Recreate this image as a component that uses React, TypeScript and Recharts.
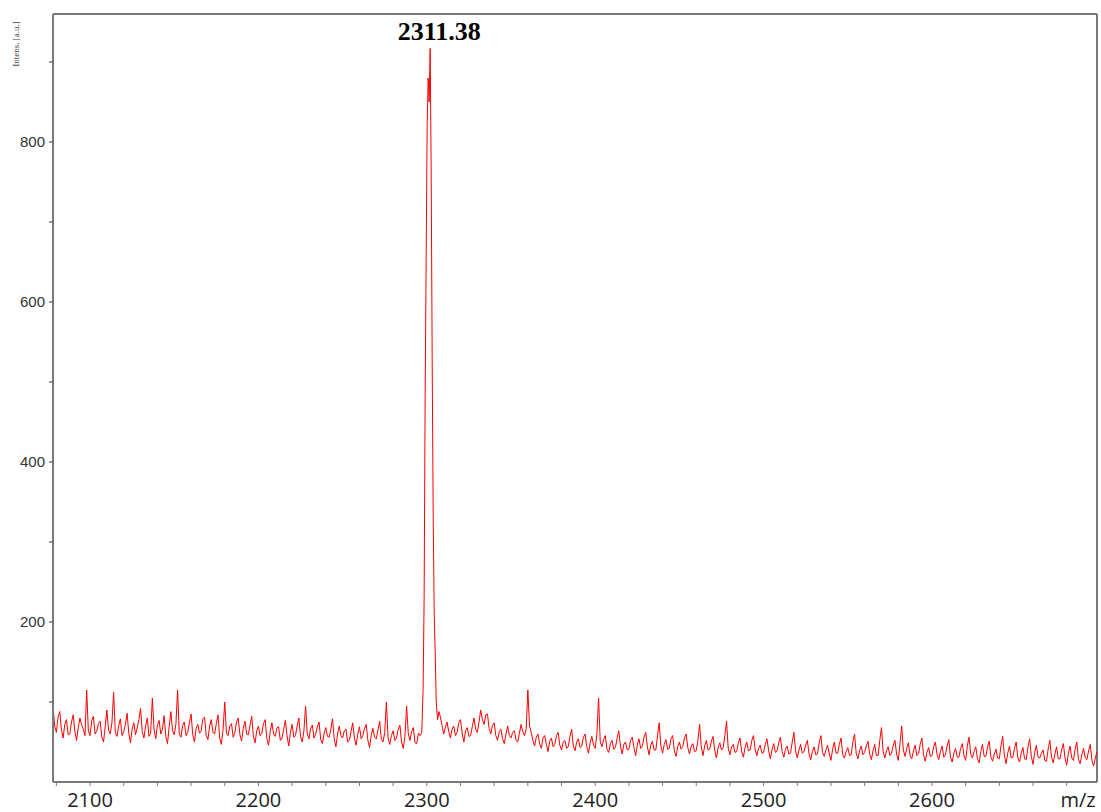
import { LineChart, Line, XAxis, YAxis, ReferenceLine, ReferenceDot } from "recharts"

// baseline noise before the peak, one value per m/z unit starting at 2078
const LEFT_START = 2078
const RIGHT_START = 2308
const STEP = 1

const leftNoise = [
  95, 70, 62, 81, 88, 66, 55, 72, 78, 59, 60, 75, 84, 63, 52, 68, 80, 71, 66, 58,
  115, 64, 58, 77, 82, 60, 64, 73, 76, 56, 50, 69, 90, 65, 60, 74, 112, 62, 57, 70,
  79, 58, 63, 72, 86, 61, 49, 66, 74, 59, 68, 78, 92, 63, 55, 70, 80, 57, 61, 105,
  66, 54, 71, 77, 60, 66, 83, 57, 48, 69, 88, 64, 59, 73, 115, 60, 56, 71, 75, 58,
  62, 74, 85, 59, 50, 67, 72, 61, 64, 79, 81, 58, 53, 70, 78, 62, 60, 73, 84, 55,
  47, 66, 100, 61, 58, 70, 73, 56, 62, 75, 80, 59, 51, 67, 76, 60, 59, 71, 82, 57,
  49, 64, 70, 58, 61, 73, 78, 54, 46, 63, 74, 60, 57, 68, 69, 52, 55, 66, 77, 58,
  45, 62, 72, 56, 58, 70, 80, 57, 50, 64, 95, 60, 54, 67, 71, 55, 60, 69, 75, 53,
  48, 61, 68, 57, 56, 66, 79, 54, 44, 60, 70, 58, 55, 64, 66, 50, 52, 63, 74, 55,
  46, 60, 69, 54, 58, 67, 72, 52, 43, 59, 67, 56, 54, 65, 76, 53, 50, 62, 100, 55,
  47, 58, 64, 52, 55, 66, 71, 50, 42, 57, 95, 60, 52, 63, 68, 49, 48, 61, 58, 62,
]

// the main peak, finer sampling
const peakMz = [2297.8, 2298.4, 2299, 2299.6, 2300.2, 2300.8, 2301.4, 2302, 2302.6, 2303.2, 2303.8, 2304.4, 2305, 2305.6, 2306.4, 2307.2]
const peakInt = [117, 230, 480, 650, 820, 880, 850, 917, 760, 520, 330, 210, 160, 100, 78, 88]

// noise after the peak, one value per m/z unit from 2308
const rightNoise = [
  82, 71, 60, 68, 75, 63, 55, 66, 70, 58, 62, 74, 78, 61, 50, 64, 68, 57, 58, 69,
  80, 66, 62, 75, 90, 78, 72, 84, 85, 67, 60, 71, 74, 58, 52, 63, 66, 54, 48, 60,
  70, 58, 55, 62, 64, 52, 50, 61, 72, 63, 58, 66, 115, 70, 62, 52, 45, 56, 60, 48,
  42, 55, 58, 47, 38, 51, 55, 44, 47, 58, 62, 46, 40, 50, 52, 42, 44, 57, 66, 45,
  39, 50, 54, 43, 45, 56, 60, 44, 36, 49, 57, 46, 42, 60, 105, 50, 44, 53, 58, 41,
  37, 48, 52, 41, 43, 55, 64, 45, 35, 47, 50, 40, 41, 52, 56, 43, 33, 46, 54, 42,
  45, 56, 62, 44, 34, 46, 51, 40, 40, 58, 74, 45, 36, 47, 53, 41, 42, 54, 58, 39,
  32, 44, 50, 41, 44, 55, 60, 43, 35, 45, 48, 38, 39, 52, 72, 44, 33, 45, 52, 40,
  41, 51, 57, 39, 30, 43, 49, 40, 43, 58, 76, 42, 34, 44, 47, 37, 38, 49, 55, 38,
  31, 43, 50, 39, 40, 52, 58, 40, 33, 42, 46, 36, 37, 47, 54, 39, 29, 40, 48, 37,
  39, 49, 56, 38, 31, 41, 45, 35, 36, 50, 62, 39, 30, 40, 47, 36, 38, 46, 52, 35,
  28, 38, 44, 34, 35, 49, 58, 37, 32, 40, 46, 35, 27, 41, 50, 36, 36, 47, 55, 34,
  30, 38, 43, 33, 34, 50, 60, 36, 29, 39, 45, 34, 37, 45, 51, 35, 28, 39, 47, 33,
  33, 52, 68, 38, 30, 39, 44, 33, 36, 46, 52, 35, 27, 48, 70, 40, 32, 42, 49, 33,
  29, 39, 46, 33, 35, 47, 55, 34, 26, 37, 43, 32, 33, 44, 50, 34, 28, 38, 45, 31,
  34, 45, 53, 31, 25, 36, 42, 31, 31, 42, 48, 33, 27, 45, 56, 35, 30, 38, 44, 29,
  24, 38, 47, 32, 32, 44, 51, 31, 26, 35, 41, 30, 29, 46, 57, 33, 23, 36, 45, 30,
  31, 42, 50, 30, 25, 36, 43, 29, 28, 44, 54, 32, 22, 37, 46, 31, 30, 36, 40, 27,
  26, 41, 52, 31, 24, 35, 44, 29, 29, 40, 48, 30, 21, 36, 45, 30, 27, 41, 50, 28,
  23, 34, 42, 30, 28, 39, 47, 27, 20, 30, 38,
]

const xTicks = [
  2080, 2100, 2120, 2140, 2160, 2180, 2200, 2220, 2240, 2260, 2280, 2300, 2320, 2340, 2360, 2380,
  2400, 2420, 2440, 2460, 2480, 2500, 2520, 2540, 2560, 2580, 2600, 2620, 2640, 2660, 2680,
]
const xLabels = [2100, 2200, 2300, 2400, 2500, 2600]
const yTicks = [100, 200, 300, 400, 500, 600, 700, 800, 900]
const yLabels = [200, 400, 600, 800]

const peakLabel = "2311.38"
const peakAt = { mz: 2302, intens: 917 }

const X_MIN = 2078
const X_MAX = 2698
const Y_MAX = 960

const data = [
  ...leftNoise.map((v, i) => ({ mz: LEFT_START + i * STEP, intens: v })),
  ...peakMz.map((m, i) => ({ mz: m, intens: peakInt[i] })),
  ...rightNoise.map((v, i) => ({ mz: RIGHT_START + i * STEP, intens: v })),
]

const axisColor = "#7a7a7a"

export default function App() {
  return (
    <div style={{ position: "absolute", left: 0, top: 0, background: "#fff" }}>
      <LineChart width={1101} height={812} data={data} margin={{ top: 14, right: 4, bottom: 0, left: 0 }}>
        <XAxis
          type="number"
          dataKey="mz"
          domain={[X_MIN, X_MAX]}
          allowDataOverflow
          ticks={xTicks}
          tickFormatter={(v: number) => (xLabels.includes(v) ? String(v) : "")}
          height={30}
          tickSize={4}
          tickMargin={7}
          stroke={axisColor}
          axisLine={{ stroke: axisColor, strokeWidth: 2 }}
          tick={{ fill: "#222", fontSize: 20, fontFamily: "'Open Sans', 'Noto Sans', sans-serif" }}
          label={(props: any) => {
            const vb = props.viewBox || {}
            return (
              <text
                x={vb.x + vb.width - 19}
                y={vb.y + 25}
                textAnchor="middle"
                fill="#222"
                fontSize={20}
                fontFamily="'Open Sans', 'Noto Sans', sans-serif"
              >
                m/z
              </text>
            )
          }}
        />
        <YAxis
          type="number"
          domain={[0, Y_MAX]}
          allowDataOverflow
          ticks={yTicks}
          tickFormatter={(v: number) => (yLabels.includes(v) ? String(v) : "")}
          width={53}
          tickSize={4}
          tickMargin={4}
          stroke={axisColor}
          axisLine={{ stroke: axisColor, strokeWidth: 2 }}
          tickLine={{ stroke: "#333" }}
          tick={{ fill: "#333", fontSize: 15, fontFamily: "'Liberation Sans Narrow', 'Liberation Sans', sans-serif" }}
          label={() => (
            <text
              x={19}
              y={44}
              transform="rotate(-90 19 44)"
              textAnchor="middle"
              fill="#444"
              fontSize={9}
              fontFamily="'Liberation Serif', serif"
            >
              Intens. [a.u.]
            </text>
          )}
        />
        <ReferenceLine y={Y_MAX} stroke={axisColor} strokeWidth={2} />
        <ReferenceLine x={X_MAX} stroke={axisColor} strokeWidth={2} />
        <Line
          type="linear"
          dataKey="intens"
          stroke="#ff0000"
          strokeWidth={1}
          dot={false}
          isAnimationActive={false}
        />
        <ReferenceDot
          x={peakAt.mz}
          y={peakAt.intens}
          r={1}
          fill="none"
          stroke="none"
          label={(props: any) => {
            const vb = props.viewBox || {}
            return (
              <text
                x={vb.x + 10}
                y={vb.y - 7}
                textAnchor="middle"
                fill="#000"
                fontSize={26}
                fontWeight="bold"
                fontFamily="'Liberation Serif', 'DejaVu Serif', serif"
              >
                {peakLabel}
              </text>
            )
          }}
        />
      </LineChart>
    </div>
  )
}
